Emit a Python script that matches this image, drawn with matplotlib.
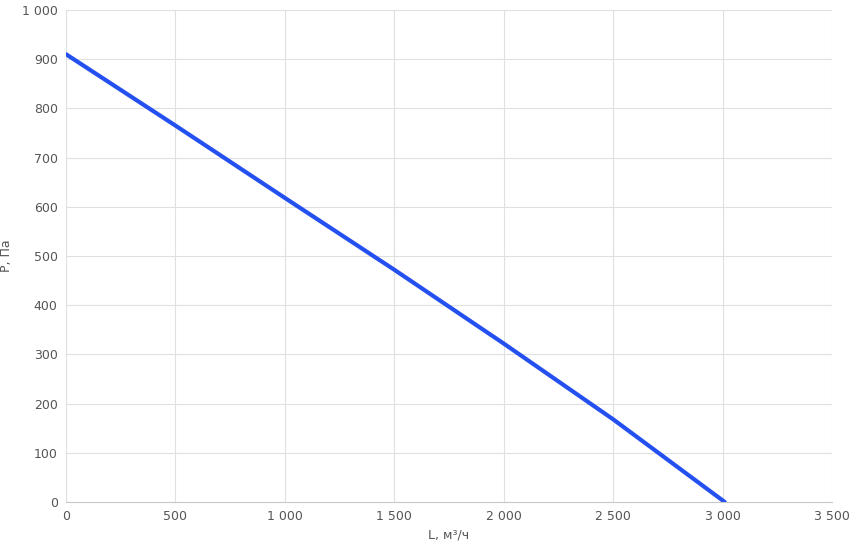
import matplotlib
matplotlib.use("Agg")
import matplotlib.pyplot as plt
from matplotlib.ticker import FuncFormatter, MultipleLocator

flow = [0, 500, 1000, 1500, 2000, 2500, 3010]
pressure = [910, 765, 618, 472, 322, 168, 0]

fig = plt.figure(figsize=(8.51, 5.53), dpi=100)
ax = fig.add_axes([0.0776, 0.0922, 0.9001, 0.8898])
ax.plot(flow, pressure, color="#2450f0", lw=3, solid_capstyle="round")
ax.set_xlim(0, 3500)
ax.set_ylim(0, 1000)
ax.xaxis.set_major_locator(MultipleLocator(500))
ax.yaxis.set_major_locator(MultipleLocator(100))
fmt = FuncFormatter(lambda v, p: f"{int(v):,}".replace(",", " "))
ax.xaxis.set_major_formatter(fmt)
ax.yaxis.set_major_formatter(fmt)
ax.grid(True, color="#e0e0e0", lw=0.8)
for s in ["top", "right", "left"]:
    ax.spines[s].set_visible(False)
ax.spines["bottom"].set_color("#c8c8c8")
ax.tick_params(length=0, labelsize=9, colors="#555555", pad=6)
ax.set_xlabel("L, м³/ч", fontsize=9, color="#555555", labelpad=4)
ax.set_ylabel("P, Па", fontsize=9, color="#555555", labelpad=6)
fig.savefig("out.png", dpi=100)
